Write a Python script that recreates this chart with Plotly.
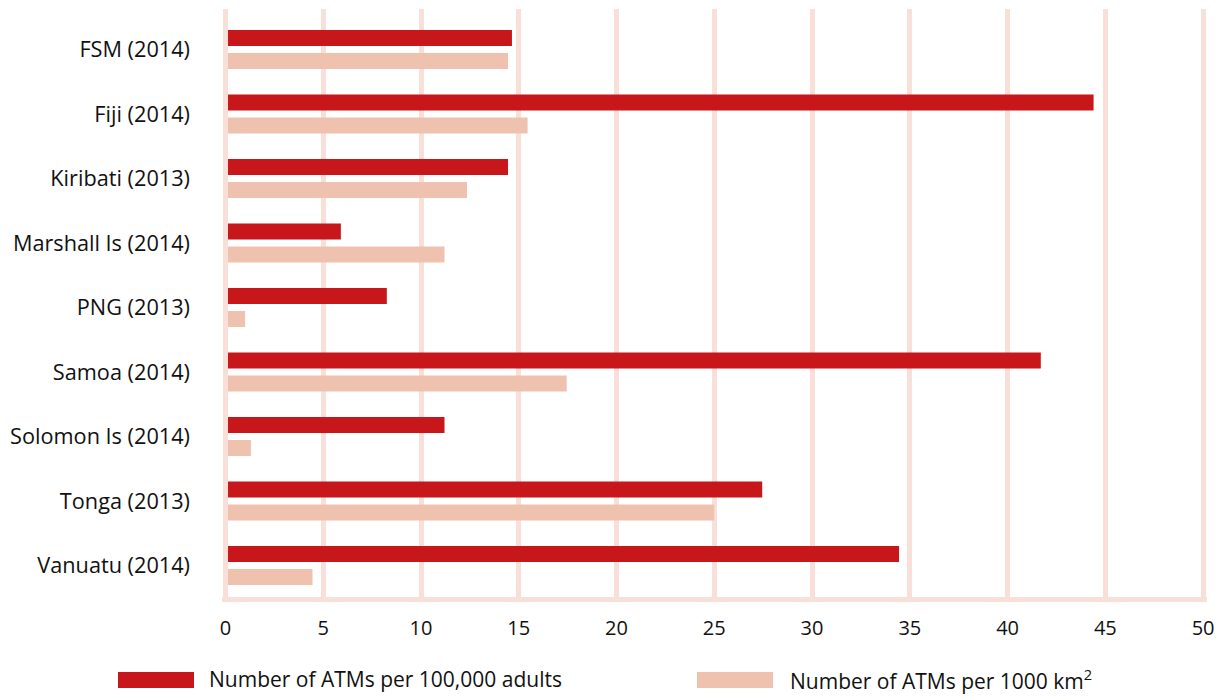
import plotly.graph_objects as go

# Chart data
countries = [
    "FSM (2014)", "Fiji (2014)", "Kiribati (2013)", "Marshall Is (2014)",
    "PNG (2013)", "Samoa (2014)", "Solomon Is (2014)", "Tonga (2013)",
    "Vanuatu (2014)",
]
atms_per_100k_adults = [14.65, 44.4, 14.45, 5.9, 8.25, 41.7, 11.2, 27.45, 34.45]
atms_per_1000_km2 = [14.45, 15.45, 12.35, 11.2, 1.0, 17.45, 1.3, 25.0, 4.45]
x_ticks = list(range(0, 51, 5))

series_names = ["Number of ATMs per 100,000 adults", "Number of ATMs per 1000 km<sup>2</sup>"]
RED = "#C8171B"
SALMON = "#EFC1AF"
GRID = "#F8E0D8"
TEXT = "#111111"
FONT = "Open Sans"

# Canvas and plot area (pixels)
W, H = 1226, 697
L, R, T, B = 222, 19, 9, 100
PW, PH = W - L - R, H - T - B


def px_x(px):
    return (px - L) / PW


def px_y(py):
    return (T + PH - py) / PH


fig = go.Figure()
fig.add_trace(go.Bar(
    y=countries, x=atms_per_100k_adults, orientation="h",
    name=series_names[0], marker=dict(color=RED, line=dict(width=0)),
    showlegend=False,
))
fig.add_trace(go.Bar(
    y=countries, x=atms_per_1000_km2, orientation="h",
    name=series_names[1], marker=dict(color=SALMON, line=dict(width=0)),
    showlegend=False,
))

shapes = [
    # zero grid line kept on top of the bars
    dict(type="line", xref="x", yref="paper", x0=0, x1=0, y0=0, y1=1,
         line=dict(color=GRID, width=5), layer="above"),
]
annotations = []

# Legend drawn as wide swatches with labels underneath the axis
legend_items = [
    (118, 194, 207, series_names[0], RED),
    (697, 773, 788, series_names[1], SALMON),
]
for sx0, sx1, tx, label, color in legend_items:
    shapes.append(dict(
        type="rect", xref="paper", yref="paper",
        x0=px_x(sx0), x1=px_x(sx1), y0=px_y(688), y1=px_y(672),
        fillcolor=color, line=dict(width=0), layer="above",
    ))
    annotations.append(dict(
        xref="paper", yref="paper", x=px_x(tx), y=px_y(679),
        xanchor="left", yanchor="middle", showarrow=False,
        text=label, font=dict(family=FONT, size=21, color=TEXT),
    ))

fig.update_layout(
    width=W, height=H,
    margin=dict(l=L, r=R, t=T, b=B, pad=0),
    paper_bgcolor="white", plot_bgcolor="white",
    barmode="group", bargap=0.287, bargroupgap=0.305,
    font=dict(family=FONT, size=21, color=TEXT),
    shapes=shapes, annotations=annotations,
    xaxis=dict(
        range=[-0.18, 50.2], tickmode="array", tickvals=x_ticks,
        ticktext=[str(v) for v in x_ticks],
        showgrid=True, gridcolor=GRID, gridwidth=5, zeroline=False,
        showline=True, linecolor=GRID, linewidth=5,
        ticks="", tickfont=dict(family=FONT, size=20, color=TEXT),
        ticklabelstandoff=9,
    ),
    yaxis=dict(
        range=[8.488, -0.628], showgrid=False, zeroline=False, showline=False,
        ticks="", tickfont=dict(family=FONT, size=21.7, color=TEXT),
        ticklabelstandoff=31,
    ),
)

fig.write_html("out.html")
